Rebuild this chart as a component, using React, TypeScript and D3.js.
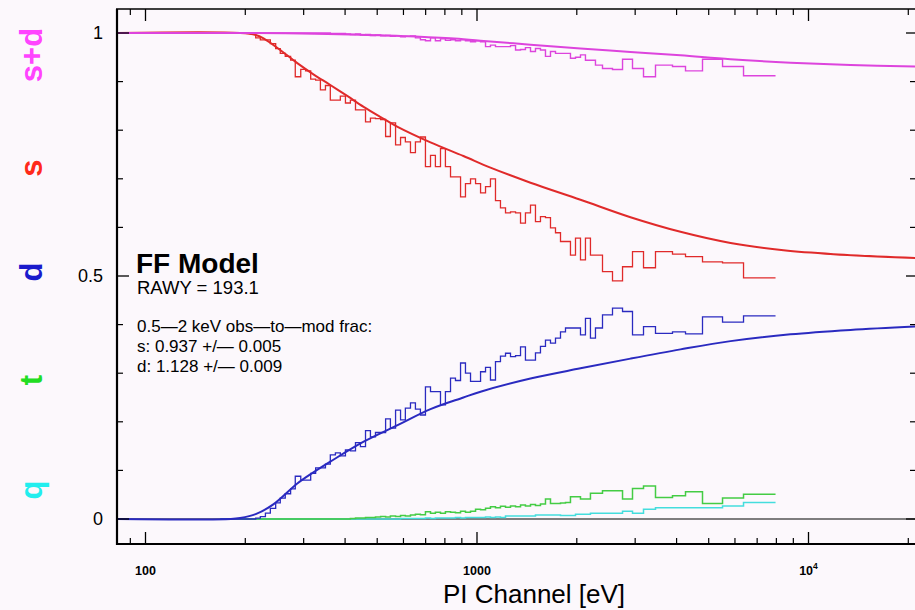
import React from "react";
import * as d3 from "d3";

// ---- data ----
const EDGES = [
  168, 174, 181, 187, 193, 200, 207, 215, 222, 230,
  238, 247, 255, 264, 274, 283, 294, 304, 315, 326,
  337, 349, 361, 374, 387, 401, 415, 430, 445, 461,
  477, 494, 512, 530, 548, 568, 588, 608, 630, 652,
  675, 699, 724, 749, 776, 803, 832, 861, 892, 923,
  956, 990, 1025, 1061, 1098, 1137, 1177, 1219, 1262, 1307,
  1353, 1400, 1450, 1501, 1554, 1609, 1666, 1725, 1786, 1849,
  1914, 1982, 2052, 2124, 2199, 2277, 2391, 2563, 2748, 2945,
  3179, 3455, 3888, 4256, 4789, 5504, 6368, 7954,
];

const S_HIST = [
  1.0, 1.0, 1.0, 1.0, 1.0, 1.0, 0.998, 0.99, 0.986, 0.986,
  0.978, 0.968, 0.958, 0.952, 0.944, 0.91, 0.925, 0.922, 0.905, 0.903,
  0.883, 0.892, 0.862, 0.862, 0.87, 0.856, 0.862, 0.842, 0.842, 0.817,
  0.825, 0.824, 0.822, 0.787, 0.815, 0.77, 0.785, 0.776, 0.754, 0.776,
  0.786, 0.725, 0.748, 0.725, 0.762, 0.725, 0.704, 0.704, 0.663, 0.69,
  0.7, 0.69, 0.671, 0.684, 0.7, 0.655, 0.64, 0.63, 0.632, 0.63,
  0.609, 0.63, 0.646, 0.612, 0.622, 0.62, 0.599, 0.589, 0.571, 0.571,
  0.543, 0.578, 0.533, 0.578, 0.543, 0.543, 0.509, 0.49, 0.519, 0.55,
  0.517, 0.55, 0.545, 0.54, 0.529, 0.527, 0.496,
];

const SD_HIST = [
  1.0, 1.0, 1.0, 1.0, 1.0, 1.0, 1.0, 1.0, 1.0, 1.0,
  1.0, 1.0, 1.0, 1.0, 1.0, 1.0, 1.0, 1.0, 1.0, 1.0,
  1.0, 1.0, 0.999, 0.999, 0.999, 0.998, 0.997, 0.998, 0.996, 0.997,
  0.995, 0.996, 0.994, 0.995, 0.993, 0.994, 0.992, 0.993, 0.994, 0.99,
  0.986, 0.984, 0.99, 0.984, 0.988, 0.985, 0.986, 0.984, 0.986, 0.984,
  0.982, 0.984, 0.982, 0.972, 0.975, 0.972, 0.972, 0.972, 0.974, 0.965,
  0.966, 0.97, 0.962, 0.968, 0.965, 0.952, 0.962, 0.958, 0.958, 0.958,
  0.948, 0.95, 0.955, 0.944, 0.944, 0.934, 0.927, 0.925, 0.946, 0.927,
  0.91, 0.934, 0.931, 0.922, 0.946, 0.931, 0.912,
];

const D_HIST = [
  0, 0, 0, 0, 0, 0, 0, 0.002, 0.005, 0.012,
  0.022, 0.033, 0.043, 0.052, 0.062, 0.088, 0.08, 0.08, 0.094, 0.105,
  0.105, 0.113, 0.132, 0.136, 0.13, 0.142, 0.14, 0.157, 0.149, 0.182,
  0.169, 0.178, 0.178, 0.206, 0.187, 0.224, 0.204, 0.228, 0.239, 0.226,
  0.214, 0.272, 0.262, 0.262, 0.235, 0.262, 0.29, 0.285, 0.321, 0.3,
  0.283, 0.283, 0.303, 0.312, 0.286, 0.324, 0.335, 0.341, 0.334, 0.336,
  0.354, 0.327, 0.327, 0.342, 0.355, 0.368, 0.362, 0.372, 0.385, 0.393,
  0.393, 0.393, 0.379, 0.413, 0.372, 0.393, 0.42, 0.434, 0.427, 0.379,
  0.396, 0.382, 0.385, 0.381, 0.416, 0.405, 0.418,
];

const T_HIST = [
  0, 0, 0, 0, 0, 0, 0, 0, 0, 0,
  0, 0, 0, 0, 0, 0, 0, 0, 0, 0,
  0, 0, 0, 0, 0, 0, 0.001, 0.002, 0.002, 0.003,
  0.003, 0.004, 0.005, 0.004, 0.006, 0.005, 0.007, 0.006, 0.008, 0.01,
  0.009, 0.015, 0.012, 0.014, 0.012, 0.015, 0.014, 0.013, 0.016, 0.014,
  0.016, 0.02, 0.019, 0.022, 0.025, 0.023, 0.026, 0.024, 0.027, 0.025,
  0.029, 0.027, 0.03, 0.028, 0.031, 0.041, 0.032, 0.032, 0.033, 0.034,
  0.046, 0.046, 0.041, 0.041, 0.053, 0.053, 0.058, 0.058, 0.041, 0.063,
  0.068, 0.044, 0.048, 0.056, 0.032, 0.043, 0.051,
];

const Q_HIST = [
  0, 0, 0, 0, 0, 0, 0, 0, 0, 0,
  0, 0, 0, 0, 0, 0, 0, 0, 0, 0,
  0, 0, 0, 0, 0, 0, 0, 0, 0, 0,
  0, 0, 0, 0, 0, 0, 0.001, 0.001, 0.001, 0.001,
  0.001, 0.002, 0.001, 0.002, 0.002, 0.002, 0.002, 0.003, 0.002, 0.003,
  0.003, 0.003, 0.003, 0.004, 0.003, 0.004, 0.003, 0.006, 0.006, 0.006,
  0.006, 0.006, 0.006, 0.008, 0.008, 0.008, 0.008, 0.008, 0.007, 0.007,
  0.007, 0.01, 0.01, 0.01, 0.012, 0.012, 0.012, 0.012, 0.016, 0.012,
  0.02, 0.023, 0.023, 0.023, 0.023, 0.027, 0.034,
];

// smooth model curves
const SD_MODEL_E = [82, 207, 294, 415, 588, 832, 1025, 1450, 2052, 2904, 4110, 5819, 8823, 13383, 21020];
const SD_MODEL_V = [1.0, 1.0, 0.999, 0.997, 0.994, 0.989, 0.984, 0.976, 0.968, 0.961, 0.954, 0.946, 0.939, 0.934, 0.931];

const S_MODEL_E = [82, 193, 215, 227, 255, 287, 321, 361, 407, 455, 512, 576, 724, 910, 1098, 1450, 2052, 2904, 4110, 5819, 8406, 11894, 21020];
const S_MODEL_V = [1.0, 1.0, 0.996, 0.989, 0.965, 0.938, 0.915, 0.893, 0.87, 0.848, 0.827, 0.807, 0.775, 0.747, 0.723, 0.692, 0.657, 0.621, 0.591, 0.568, 0.553, 0.545, 0.537];

const D_MODEL_E = [82, 181, 193, 215, 243, 287, 321, 361, 455, 576, 724, 910, 1025, 1450, 2052, 2904, 4110, 5819, 8823, 13383, 21020];
const D_MODEL_V = [0, 0, 0.002, 0.01, 0.03, 0.073, 0.096, 0.118, 0.159, 0.193, 0.226, 0.25, 0.262, 0.289, 0.31, 0.33, 0.349, 0.366, 0.38, 0.389, 0.396];

// axes
const X_MAJOR = [100, 1000, 10000];
const X_MINOR = [90, 200, 300, 400, 500, 600, 700, 800, 900, 2000, 3000, 4000, 5000, 6000, 7000, 8000, 9000, 20000];
const Y_MAJOR = [0, 0.5, 1];
const Y_MINOR = [0.1, 0.2, 0.3, 0.4, 0.6, 0.7, 0.8, 0.9];
const Y_LABELS = ["0", "0.5", "1"];

const SERIES_LABELS = ["s+d", "s", "d", "t", "q"];
const SERIES_LABEL_COLORS = ["#ff44ff", "#ff2a1a", "#1a1acc", "#22dd22", "#22eeee"];
const SERIES_LABEL_Y = [55, 168, 272, 380, 490];

const INFO_LINES = ["0.5—2 keV obs—to—mod frac:", "s: 0.937 +/— 0.005", "d: 1.128 +/— 0.009"];

const C_SD = "#dd44dd";
const C_S = "#e02a2a";
const C_D = "#2a2ac0";
const C_T = "#44cc44";
const C_Q = "#44dddd";

const FONT = "'Liberation Sans', Arial, Helvetica, sans-serif";

export default function App() {
  const W = 915, H = 610;
  const L = 117, R = 918, T = 9, B = 544;
  const x = d3.scaleLog().domain([100, 10000]).range([145.5, 808.5]);
  const y = d3.scaleLinear().domain([0, 1]).range([519, 33]);

  const hist = (vals: number[]) => {
    const pts: [number, number][] = vals.map((v, i) => [x(EDGES[i]), y(v)]);
    pts.push([x(EDGES[EDGES.length - 1]), y(vals[vals.length - 1])]);
    return d3.line().curve(d3.curveStepAfter)(pts) || "";
  };
  const model = (es: number[], vs: number[]) => {
    const pts: [number, number][] = es.map((e, i) => [x(e), y(vs[i])]);
    return d3.line().curve(d3.curveCatmullRom.alpha(0.5))(pts) || "";
  };

  return (
    <div style={{ position: "absolute", left: 0, top: 0 }}>
      <svg width={W} height={H} style={{ display: "block", fontFamily: FONT }}>
        <defs>
          <clipPath id="plot">
            <rect x={L} y={T} width={R - L} height={B - T} />
          </clipPath>
        </defs>
        <rect x={0} y={0} width={W} height={H} fill="#fcf8fc" />

        <g clipPath="url(#plot)" fill="none" strokeLinejoin="miter">
          <line x1={L} x2={R} y1={y(0)} y2={y(0)} stroke="#555" strokeWidth={1.6} />
          <path d={hist(Q_HIST)} stroke={C_Q} strokeWidth={1.5} />
          <path d={hist(T_HIST)} stroke={C_T} strokeWidth={1.5} />
          <path d={model(D_MODEL_E, D_MODEL_V)} stroke={C_D} strokeWidth={2} />
          <path d={hist(D_HIST)} stroke={C_D} strokeWidth={1.3} />
          <path d={hist(S_HIST)} stroke={C_S} strokeWidth={1.3} />
          <path d={model(S_MODEL_E, S_MODEL_V)} stroke={C_S} strokeWidth={2} />
          <path d={hist(SD_HIST)} stroke={C_SD} strokeWidth={1.4} />
          <path d={model(SD_MODEL_E, SD_MODEL_V)} stroke={C_SD} strokeWidth={2} />
        </g>

        {/* frame */}
        <g stroke="#000" fill="none">
          <line x1={L} x2={L} y1={T} y2={B + 1} strokeWidth={2.2} />
          <line x1={L - 1} x2={R} y1={B} y2={B} strokeWidth={2.2} />
          <line x1={L - 1} x2={R} y1={T} y2={T} strokeWidth={1.6} />
          <line x1={R} x2={R} y1={T} y2={B} strokeWidth={2} />
          {X_MAJOR.map((v) => (
            <g key={"xM" + v}>
              <line x1={x(v)} x2={x(v)} y1={B} y2={B - 12} strokeWidth={1.3} />
              <line x1={x(v)} x2={x(v)} y1={T} y2={T + 12} strokeWidth={1.3} />
            </g>
          ))}
          {X_MINOR.map((v) => (
            <g key={"xm" + v}>
              <line x1={x(v)} x2={x(v)} y1={B} y2={B - 6} strokeWidth={1.2} />
              <line x1={x(v)} x2={x(v)} y1={T} y2={T + 6} strokeWidth={1.2} />
            </g>
          ))}
          {Y_MAJOR.map((v) => (
            <g key={"yM" + v}>
              <line x1={L} x2={L + 12} y1={y(v)} y2={y(v)} strokeWidth={1.3} />
              <line x1={R} x2={R - 12} y1={y(v)} y2={y(v)} strokeWidth={1.3} />
            </g>
          ))}
          {Y_MINOR.map((v) => (
            <g key={"ym" + v}>
              <line x1={L} x2={L + 6} y1={y(v)} y2={y(v)} strokeWidth={1.2} />
              <line x1={R} x2={R - 8} y1={y(v)} y2={y(v)} strokeWidth={1.2} />
            </g>
          ))}
        </g>

        {/* y tick labels */}
        {Y_MAJOR.map((v, i) => (
          <text key={"yl" + v} x={103} y={y(v) + 6} textAnchor="end" fontSize={18} fill="#000">
            {Y_LABELS[i]}
          </text>
        ))}

        {/* x tick labels */}
        <text x={x(100)} y={575} textAnchor="middle" fontSize={12.5} fontWeight="bold" fill="#000">100</text>
        <text x={x(1000)} y={575} textAnchor="middle" fontSize={12.5} fontWeight="bold" fill="#000">1000</text>
        <text x={x(10000)} y={575} textAnchor="middle" fontSize={12.5} fontWeight="bold" fill="#000">
          10<tspan fontSize={8.5} dy={-6}>4</tspan>
        </text>

        {/* x axis title */}
        <text x={534} y={603} textAnchor="middle" fontSize={26} fill="#000">PI Channel [eV]</text>

        {/* rotated series labels */}
        {SERIES_LABELS.map((s, i) => (
          <text
            key={s}
            transform={`translate(31,${SERIES_LABEL_Y[i]}) rotate(-90)`}
            textAnchor="middle"
            dominantBaseline="central"
            fontSize={31}
            fontWeight="bold"
            fill={SERIES_LABEL_COLORS[i]}
          >
            {s}
          </text>
        ))}

        {/* annotation */}
        <text x={136} y={273} fontSize={28} fontWeight="bold" fill="#000">FF Model</text>
        <text x={137} y={294} fontSize={18.5} fill="#000">RAWY = 193.1</text>
        {INFO_LINES.map((t, i) => (
          <text key={t} x={137} y={332 + i * 20} fontSize={17} fill="#000">{t}</text>
        ))}
      </svg>
    </div>
  );
}
